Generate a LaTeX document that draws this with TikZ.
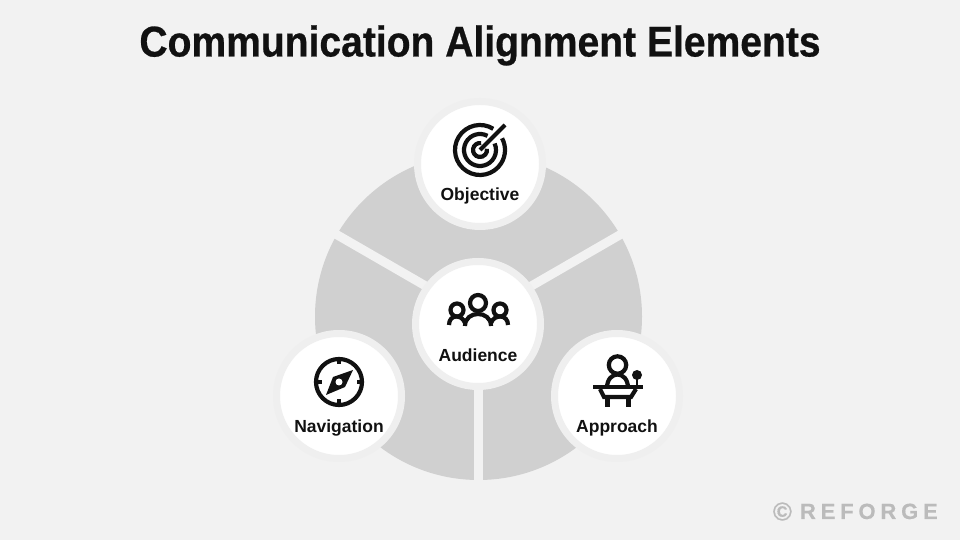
\documentclass[tikz,border=0pt]{standalone}
\usepackage{fontspec}
\setmainfont{Liberation Sans}
\newfontfamily\titlefont[FakeBold=0.6,FakeStretch=0.908,BoldFont={Liberation Sans Bold},UprightFont={Liberation Sans Bold}]{Liberation Sans}
\newfontfamily\brandfont[FakeBold=0.4,LetterSpace=22,UprightFont={Liberation Sans Bold}]{Liberation Sans}
\usetikzlibrary{calc}
\definecolor{pagebg}{HTML}{F2F2F2}
\definecolor{wheelgrey}{HTML}{D0D0D0}
\definecolor{ringgrey}{HTML}{EFEFEF}
\definecolor{inkblack}{HTML}{111111}
\definecolor{markgrey}{HTML}{BBBBBB}
\tikzset{
  badge/.style={circle,draw=ringgrey,line width=7pt,fill=white,minimum size=125pt,inner sep=0pt},
  badgelabel/.style={text=inkblack,inner sep=0pt,font=\fontsize{17.5}{20}\selectfont\bfseries},
  iconline/.style={draw=inkblack,line width=4.2pt},
  iconfill/.style={fill=inkblack,draw=none}
}
\begin{document}
\begin{tikzpicture}[x=1pt,y=1pt]

%background
\fill[pagebg] (0,0) rectangle (960,540);
\useasboundingbox (0,0) rectangle (960,540);
%title
\node[text=inkblack,inner sep=0pt,anchor=base] (title) at (480,483.5) {\fontsize{43}{48}\selectfont\titlefont Communication Alignment Elements};
%wheel
\coordinate (hub) at (478.5,223.5);
\fill[wheelgrey] (hub) circle[radius=163.5pt];
\foreach \a/\n in {30/spokeright,150/spokeleft,270/spokedown} {
  \coordinate (\n) at ($(hub)+(\a:175pt)$);
  \draw[pagebg,line width=9pt] (hub) -- (\n);
}
%badges
\node[badge] (objective) at (480,376) {};
\node[badge] (audience) at (478,216) {};
\node[badge] (navigation) at (339,144) {};
\node[badge] (approach) at (617,144) {};
%labels
\node[badgelabel] (objectivetext) at (480,344) {Objective};
\node[badgelabel] (audiencetext) at (478,185) {Audience};
\node[badgelabel] (navigationtext) at (339,112) {Navigation};
\node[badgelabel] (approachtext) at (617,112) {Approach};
%target icon
\begin{scope}[shift={(480,390)}]
\draw[iconline] (58:25pt) arc (58:388:25pt);
\draw[iconline] (62:16pt) arc (62:384:16pt);
\draw[iconline] (80:7pt) arc (80:370:7pt);
\draw[iconline] (0,0) -- (25,25);
\end{scope}
%people icon
\draw[iconline] (478,237) circle[radius=8pt];
\draw[iconline] (465,214) .. controls (465,230) and (491,230) .. (491,214);
\draw[iconline] (457,230) circle[radius=6.5pt];
\draw[iconline] (500,230) circle[radius=6.5pt];
\draw[iconline] (449,215) .. controls (449,226) and (462,226) .. (465,217);
\draw[iconline] (508,215) .. controls (508,226) and (494,226) .. (491,217);
%compass icon
\begin{scope}[shift={(339,158)}]
\draw[iconline] (0,0) circle[radius=23pt];
\foreach \a in {0,90,180,270} {
  \draw[inkblack,line width=4pt] (\a:23pt) -- (\a:17.5pt);
}
\fill[iconfill] (14,12) -- (6,-5) -- (-13,-13) -- (-6,5) -- cycle;
\fill[white] (0,0) circle[radius=3.5pt];
\end{scope}
%speaker icon
\draw[iconline] (617.5,175) circle[radius=8.7pt];
\draw[iconline] (607,152) .. controls (607,170) and (628,170) .. (628,152);
\fill[iconfill] (637,165) circle[radius=5pt];
\draw[inkblack,line width=2.6pt] (637,165) -- (637,154);
\draw[inkblack,line width=4pt] (593,153) -- (643,153);
\draw[iconline] (600,151) -- (604,143) -- (631,143) -- (636,151);
\draw[inkblack,line width=5pt] (607,143) -- (607,133);
\draw[inkblack,line width=5pt] (628,143) -- (628,133);
%brand mark
\node[text=markgrey,inner sep=0pt,anchor=base east] (brand) at (938,21) {\brandfont\fontsize{26}{28}\selectfont\raisebox{-1.5pt}{©}\hspace{8pt}\fontsize{22}{24}\selectfont REFORGE};

\end{tikzpicture}
\end{document}
